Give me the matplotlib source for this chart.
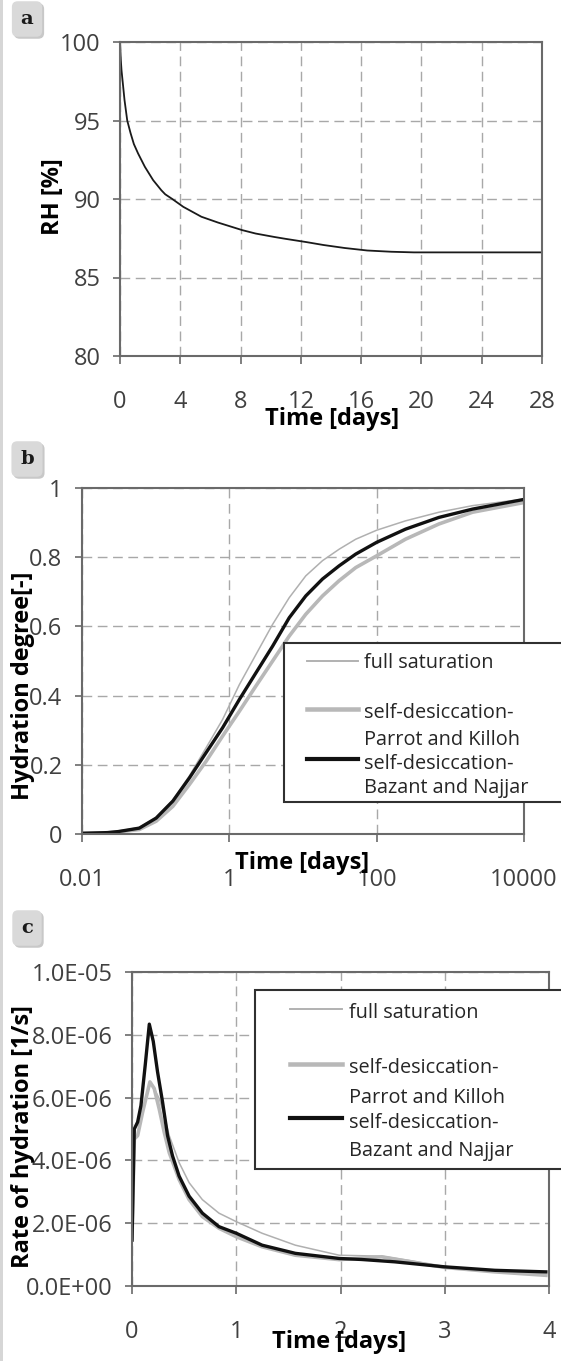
import numpy as np
import matplotlib
matplotlib.use("Agg")
import matplotlib.pyplot as plt
from matplotlib.lines import Line2D
from matplotlib.patches import Rectangle
from matplotlib.ticker import FuncFormatter

plt.rcParams['font.family'] = ['Open Sans', 'DejaVu Sans']

# (a) relative humidity under self-desiccation
t_rh = [0, 0.05, 0.1, 0.19, 0.3, 0.48, 0.7, 0.92, 1.2, 1.65, 2.2, 2.74, 3.0, 3.47, 4.2, 5.4,
        6.5, 8.1, 9.0, 10.25, 11.0, 12.4, 13.5, 14.9, 16.4, 18.0, 19.5, 22.0, 28]
rh = [100, 98.9, 98.2, 97.35, 96.3, 95.0, 94.2, 93.5, 92.9, 92.05, 91.2, 90.56, 90.3, 90.0, 89.5, 88.87,
      88.5, 88.02, 87.8, 87.58, 87.46, 87.25, 87.07, 86.88, 86.72, 86.64, 86.6, 86.6, 86.6]

# (b) hydration degree, log time axis
t_deg = [0.01, 0.022, 0.031, 0.06, 0.1016, 0.171, 0.287, 0.483, 0.81, 1.37, 2.30, 3.87, 6.5,
         10.9, 18.4, 30.9, 52, 100, 246, 700, 2000, 10000]
deg_full = [0.002, 0.004, 0.008, 0.019, 0.048, 0.098, 0.168, 0.249, 0.331, 0.432, 0.519, 0.606, 0.683,
            0.746, 0.79, 0.823, 0.852, 0.878, 0.905, 0.93, 0.949, 0.968]
deg_pk = [0.002, 0.003, 0.006, 0.013, 0.037, 0.08, 0.143, 0.21, 0.283, 0.355, 0.428, 0.5, 0.572,
          0.635, 0.688, 0.732, 0.77, 0.804, 0.852, 0.896, 0.93, 0.958]
deg_bn = [0.002, 0.004, 0.007, 0.017, 0.046, 0.095, 0.162, 0.235, 0.307, 0.389, 0.466, 0.543, 0.625,
          0.688, 0.737, 0.775, 0.809, 0.843, 0.881, 0.915, 0.939, 0.967]

# (c) rate of hydration [1e-6 1/s], first four days
t_rate = [0, 0.022, 0.054, 0.102, 0.172, 0.213, 0.261, 0.309, 0.357, 0.452, 0.548, 0.675, 0.834,
          1.0, 1.248, 1.567, 1.987, 2.395, 2.68, 3.0, 3.48, 3.97]
rate_full = [1.5, 4.68, 4.79, 5.54, 6.5, 6.29, 5.97, 5.43, 4.79, 3.93, 3.29, 2.75, 2.32,
             2.05, 1.68, 1.30, 0.98, 0.95, 0.80, 0.61, 0.45, 0.37]
rate_pk = [1.5, 4.68, 4.79, 5.54, 6.5, 6.29, 5.64, 4.9, 4.25, 3.39, 2.75, 2.21, 1.84,
           1.57, 1.25, 0.98, 0.84, 0.93, 0.77, 0.59, 0.45, 0.34]
t_rate_bn = [0, 0.022, 0.054, 0.086, 0.127, 0.166, 0.204, 0.245, 0.293, 0.341, 0.389, 0.452, 0.548,
             0.675, 0.834, 1.0, 1.248, 1.567, 1.987, 2.2, 2.52, 3.0, 3.48, 3.97]
rate_bn = [1.46, 5.0, 5.22, 5.75, 7.04, 8.34, 7.79, 6.82, 5.86, 4.79, 4.14, 3.5, 2.86,
           2.32, 1.89, 1.68, 1.30, 1.04, 0.877, 0.845, 0.77, 0.61, 0.50, 0.45]

labels = ['full saturation', 'self-desiccation-\nParrot and Killoh', 'self-desiccation-\nBazant and Najjar']

W, H = 561, 1361
fig = plt.figure(figsize=(W / 100, H / 100), dpi=100)
fig.patch.set_facecolor('white')


def fx(px):
    return px / W


def fy(py):
    return 1 - py / H


def make_axes(left, top, right, bottom):
    ax = fig.add_axes([fx(left), fy(bottom), (right - left) / W, (bottom - top) / H])
    for s in ax.spines.values():
        s.set_color('#6a6a6a')
        s.set_linewidth(1.5)
    ax.grid(True, color='#a8a8a8', linestyle=(0, (7, 4)), linewidth=1.0)
    ax.set_axisbelow(True)
    ax.tick_params(axis='x', direction='out', length=5.5, width=1.2, color='#6a6a6a',
                   pad=19, labelsize=17, labelcolor='#404040')
    ax.tick_params(axis='y', direction='out', length=5, width=1.2, color='#6a6a6a',
                   pad=9, labelsize=17, labelcolor='#404040')
    ax.tick_params(which='minor', length=0)
    return ax


def set_labels(ax, xl, yl, left, top, right, bottom, xl_cx, xl_top, yl_cx, yl_cy):
    ax.set_xlabel(xl, fontsize=17, fontweight='bold', color='black')
    ax.set_ylabel(yl, fontsize=17, fontweight='bold', color='black')
    w, h = right - left, bottom - top
    ax.xaxis.set_label_coords((xl_cx - left) / w, (bottom - xl_top) / h)
    ax.yaxis.set_label_coords((yl_cx - left) / w, (bottom - yl_cy) / h)
    ax.xaxis.label.set_va('top')
    ax.yaxis.label.set_va('center')


def panel_tag(letter, cx, cy):
    # grey rounded tag with a soft shadow
    fig.text(fx(cx + 2), fy(cy + 2), letter, ha='center', va='center', color='#c8c8c8',
             family='DejaVu Serif', fontweight='bold', fontsize=14,
             bbox=dict(boxstyle='round,pad=0.45,rounding_size=0.3', fc='#c8c8c8', ec='none'))
    fig.text(fx(cx), fy(cy), letter, ha='center', va='center', color='#1a1a1a',
             family='DejaVu Serif', fontweight='bold', fontsize=14,
             bbox=dict(boxstyle='round,pad=0.45,rounding_size=0.3', fc='#d9d9d9', ec='none'))


styles = [dict(color='#b0b0b0', lw=1.1),
          dict(color='#b8b8b8', lw=2.6),
          dict(color='#111111', lw=2.4)]


def key_box(left, top, bottom, line_x0, line_x1, text_x, line_ys, text_baselines):
    fig.add_artist(Rectangle((fx(left), fy(bottom)), fx(W + 20 - left), (bottom - top) / H,
                             transform=fig.transFigure, fc='white', ec='#303030', lw=1.5,
                             zorder=5, clip_on=False))
    for st, ly in zip(styles, line_ys):
        fig.add_artist(Line2D([fx(line_x0), fx(line_x1)], [fy(ly), fy(ly)],
                              transform=fig.transFigure, zorder=6,
                              color=st['color'], lw=st['lw'] * 1.25))
    lines = []
    for lab in labels:
        lines.extend(lab.split('\n'))
    for txt, by in zip(lines, text_baselines):
        fig.text(fx(text_x), fy(by), txt, ha='left', va='baseline', fontsize=14.3,
                 color='#262626', zorder=7)


# left page rule
fig.add_artist(Rectangle((0, 0), fx(3), 1, transform=fig.transFigure, fc='#d6d6d6', ec='none'))

# ---- panel a ----
ax = make_axes(120, 42, 542, 356)
ax.plot(t_rh, rh, color='#1a1a1a', lw=1.3)
ax.set_xlim(0, 28)
ax.set_ylim(80, 100)
ax.set_xticks(np.arange(0, 29, 4))
ax.set_yticks(np.arange(80, 101, 5))
set_labels(ax, 'Time [days]', 'RH [%]', 120, 42, 542, 356, 332, 407, 53, 197)
panel_tag('a', 27, 19)

# ---- panel b ----
ax = make_axes(82, 488, 524, 834)
ax.plot(t_deg, deg_full, **styles[0])
ax.plot(t_deg, deg_pk, **styles[1])
ax.plot(t_deg, deg_bn, **styles[2])
ax.set_xscale('log')
ax.set_xlim(0.01, 10000)
ax.set_ylim(0, 1)
ax.set_xticks([0.01, 1, 100, 10000])
ax.set_xticklabels(['0.01', '1', '100', '10000'])
ax.set_yticks(np.arange(0, 1.01, 0.2))
ax.yaxis.set_major_formatter(FuncFormatter(lambda v, p: '{:g}'.format(round(v, 1))))
set_labels(ax, 'Time [days]', 'Hydration degree[-]', 82, 488, 524, 834, 302, 851, 23, 686)
key_box(284, 643, 802, 307, 358, 364, [661, 709, 759], [668, 718, 745, 769, 793])
panel_tag('b', 27, 459)

# ---- panel c ----
ax = make_axes(132, 972, 549, 1286)
ax.plot(t_rate, np.array(rate_full) * 1e-6, **styles[0])
ax.plot(t_rate, np.array(rate_pk) * 1e-6, **styles[1])
ax.plot(t_rate_bn, np.array(rate_bn) * 1e-6, **styles[2])
ax.set_xlim(0, 4)
ax.set_ylim(0, 1e-5)
ax.set_xticks([0, 1, 2, 3, 4])
ax.set_yticks(np.arange(0, 1.01e-5, 2e-6))
ax.yaxis.set_major_formatter(FuncFormatter(lambda v, p: '{:.1E}'.format(v)))
ax.yaxis.get_offset_text().set_visible(False)
set_labels(ax, 'Time [days]', 'Rate of hydration [1/s]', 132, 972, 549, 1286, 339, 1330, 23, 1137)
key_box(255, 990, 1169, 290, 342, 349, [1009, 1064, 1118], [1018, 1073, 1103, 1128, 1156])
panel_tag('c', 27, 928)

fig.savefig('out.png', dpi=100)
